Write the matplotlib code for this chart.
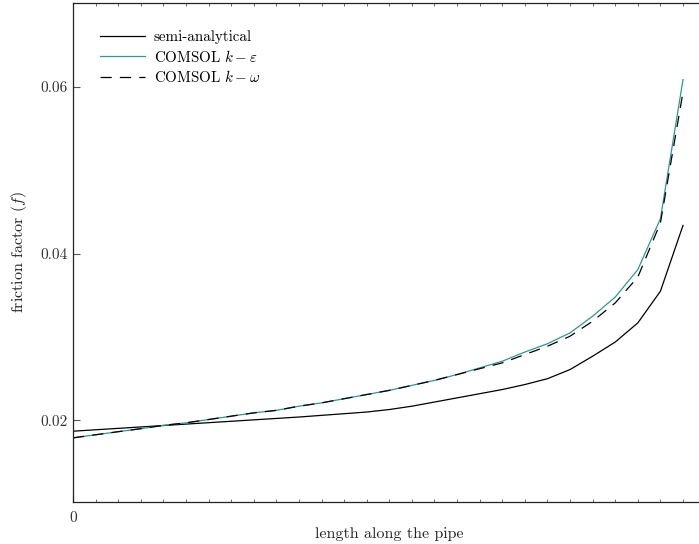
import matplotlib
matplotlib.use("Agg")
import matplotlib.pyplot as plt
import numpy as np
from matplotlib.ticker import MultipleLocator, FixedLocator

plt.rcParams['font.family'] = 'serif'
plt.rcParams['font.serif'] = ['cmr10']
plt.rcParams['mathtext.fontset'] = 'cm'
plt.rcParams['axes.formatter.use_mathtext'] = True
plt.rcParams['axes.unicode_minus'] = False

# friction factor at each station along the pipe
station = list(range(28))
f_semi = [0.0187, 0.01887, 0.01904, 0.01921, 0.01938, 0.01955, 0.01972, 0.01989,
          0.02006, 0.02023, 0.0204, 0.0206, 0.0208, 0.0210, 0.0213, 0.0217,
          0.0222, 0.0227, 0.0232, 0.0237, 0.0243, 0.0250, 0.0261, 0.0277,
          0.0294, 0.0317, 0.0355, 0.0434]
f_keps = [0.0179, 0.01827, 0.01864, 0.0190, 0.0194, 0.0197, 0.0201, 0.0205,
          0.0209, 0.0212, 0.0217, 0.0221, 0.0226, 0.0231, 0.0236, 0.0242,
          0.0248, 0.0255, 0.0263, 0.0271, 0.0282, 0.0292, 0.0305, 0.0325,
          0.0348, 0.0381, 0.0442, 0.0609]
f_komg = [0.0179, 0.01827, 0.01864, 0.0190, 0.0194, 0.0197, 0.0201, 0.0205,
          0.0209, 0.0212, 0.0217, 0.0221, 0.0226, 0.0231, 0.0236, 0.0242,
          0.0248, 0.0255, 0.0262, 0.0269, 0.0279, 0.0289, 0.0301, 0.0319,
          0.0341, 0.0372, 0.0437, 0.0594]
y_ticks = [0.02, 0.04, 0.06]
y_tick_labels = ['0.02', '0.04', '0.06']

W, H = 699, 544
fig = plt.figure(figsize=(W / 100, H / 100), dpi=100)
left, bottom, top, right = 73, 42, 541, 705.6
ax = fig.add_axes([left / W, bottom / H, (right - left) / W, (top - bottom) / H])

ax.plot(station, f_semi, color='black', lw=0.9, label='semi-analytical')
ax.plot(station, f_keps, color='#2b9a92', lw=0.9, label=r'COMSOL $k-\varepsilon$')
ax.plot(station, f_komg, color='black', lw=0.9, dashes=(9, 6.5),
        label=r'COMSOL $k-\omega$')

ax.set_xlim(0, 28)
ax.set_ylim(0.0102, 0.0701)
ax.xaxis.set_major_locator(FixedLocator([0]))
ax.xaxis.set_minor_locator(MultipleLocator(1))
ax.set_xticklabels(['0'])
ax.set_yticks(y_ticks)
ax.set_yticklabels(y_tick_labels)

ax.tick_params(axis='both', which='major', direction='in', length=5,
               width=0.8, color='#555555', labelsize=11, labelcolor='#333333')
ax.tick_params(axis='x', which='minor', direction='in', length=2.5,
               width=0.6, color='#555555', top=True, bottom=True)
ax.tick_params(axis='x', which='major', top=False, pad=7)
ax.tick_params(axis='y', which='major', pad=4)

for s in ax.spines.values():
    s.set_linewidth(0.9)
    s.set_color('#222222')

ax.set_xlabel('length along the pipe', fontsize=11.5, color='#222222', labelpad=1)
ax.set_ylabel(r'friction factor $(f)$', fontsize=11.5, color='#222222', labelpad=8)

ax.legend(loc='upper left', frameon=False, fontsize=10.8, handlelength=3.0,
          handletextpad=0.6, labelspacing=0.3, borderaxespad=1.4)

fig.savefig('out.png', dpi=100)
